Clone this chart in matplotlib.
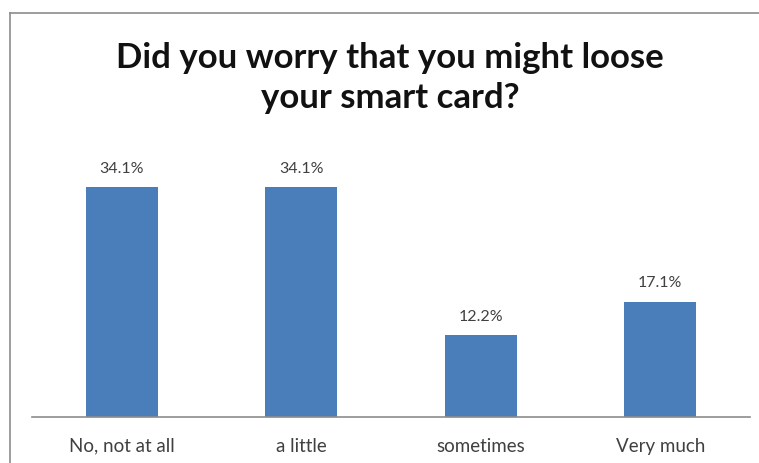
import matplotlib
matplotlib.use("Agg")
import matplotlib.pyplot as plt
from matplotlib.lines import Line2D

categories = ["No, not at all", "a little", "sometimes", "Very much"]
percent = [34.1, 34.1, 12.2, 17.1]
title = "Did you worry that you might loose\nyour smart card?"

W, H = 759, 463
fig = plt.figure(figsize=(W / 100, H / 100), dpi=100)
fig.patch.set_facecolor("white")

# chart frame (left and top edges)
frame_kw = dict(color="#8c8c8c", lw=1.2, transform=fig.transFigure)
fig.add_artist(Line2D([10 / W, 10 / W], [0, 1 - 13 / H], **frame_kw))
fig.add_artist(Line2D([10 / W, 1], [1 - 13 / H, 1 - 13 / H], **frame_kw))

ax = fig.add_axes([32 / W, 46 / H, 718 / W, 270 / H])
x = range(len(categories))
bars = ax.bar(x, percent, width=0.4, color="#4a7ebb")
ax.set_xlim(-0.5, len(categories) - 0.5)
ax.set_ylim(0, 40)

for rect, v in zip(bars, percent):
    ax.annotate(f"{v:.1f}%", (rect.get_x() + rect.get_width() / 2, v),
                xytext=(0, 8), textcoords="offset points",
                ha="center", va="bottom", fontsize=11.5, color="#404040",
                family="Lato")

ax.set_xticks(list(x))
ax.set_xticklabels(categories, fontsize=13.5, color="#404040", family="Lato")
ax.tick_params(axis="x", length=0, pad=15)
ax.set_yticks([])
for s in ("left", "right", "top"):
    ax.spines[s].set_visible(False)
ax.spines["bottom"].set_color("#8c8c8c")
ax.spines["bottom"].set_linewidth(1.2)

fig.text(390 / W, 1 - 78 / H, title, ha="center", va="center",
         fontsize=25, fontweight="bold", family="Lato", color="#111111",
         linespacing=1.3)

fig.savefig("out.png", dpi=100)
